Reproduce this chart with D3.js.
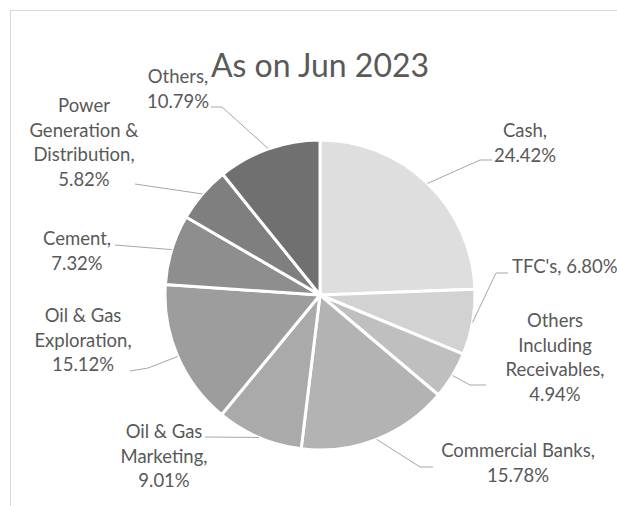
<!DOCTYPE html>
<html>
<head>
<meta charset="utf-8">
<script src="https://cdn.jsdelivr.net/npm/d3@7"></script>
<style>
  html, body { margin: 0; padding: 0; background: #ffffff; }
  svg { display: block; }
</style>
</head>
<body>
<svg id="chart" width="617" height="506"></svg>
<script>
// Portfolio composition, as on June 2023
const chartTitle = "As on Jun 2023";
const categories = [
  "Cash", "TFC's", "Others Including Receivables", "Commercial Banks",
  "Oil & Gas Marketing", "Oil & Gas Exploration", "Cement",
  "Power Generation & Distribution", "Others"
];
const shares = [24.42, 6.80, 4.94, 15.78, 9.01, 15.12, 7.32, 5.82, 10.79];
const sliceColors = [
  "#dedede", "#d2d2d2", "#bfbfbf", "#b3b3b3",
  "#aaaaaa", "#9d9d9d", "#8e8e8e", "#7f7f7f", "#707070"
];
// How each category name wraps inside its data label
const nameLines = [
  ["Cash"], ["TFC's"], ["Others", "Including", "Receivables"], ["Commercial Banks"],
  ["Oil & Gas", "Marketing"], ["Oil & Gas", "Exploration"], ["Cement"],
  ["Power", "Generation &", "Distribution"], ["Others"]
];

// Label placement: text anchor point, first baseline, and leader-line bend points
const labelLayout = [
  { x: 525, y: 137, anchor: "middle", inline: false, bends: [[480, 160], [492, 160]] },
  { x: 512, y: 273, anchor: "start",  inline: true,  bends: [[496, 273], [508, 273]] },
  { x: 555, y: 327, anchor: "middle", inline: false, bends: [[470, 385], [486, 385]] },
  { x: 518, y: 457, anchor: "middle", inline: false, bends: [[420, 467], [433, 467]] },
  { x: 164, y: 438, anchor: "middle", inline: false, bends: [[205, 437]] },
  { x: 83,  y: 322, anchor: "middle", inline: false, bends: [[148, 368], [130, 371]] },
  { x: 77,  y: 245, anchor: "middle", inline: false, bends: [[115, 245]] },
  { x: 84,  y: 112, anchor: "middle", inline: false, bends: [[135, 184]] },
  { x: 178, y: 83,  anchor: "middle", inline: false, bends: [[222, 107], [211, 107]] }
];

const W = 617, H = 506;
const cx = 320, cy = 295, radius = 155;
const textColor = "#595959";
const fontFamily = "Lato, 'Open Sans', sans-serif";
const labelSize = 18.5;
const lineGap = 24.5;

const svg = d3.select("#chart");

// chart area frame
svg.append("rect")
  .attr("x", 10.5).attr("y", 10.5)
  .attr("width", W + 50).attr("height", H + 50)
  .attr("fill", "#ffffff")
  .attr("stroke", "#d9d9d9")
  .attr("stroke-width", 1);

svg.append("text")
  .attr("x", 320).attr("y", 77)
  .attr("text-anchor", "middle")
  .attr("font-family", fontFamily)
  .attr("font-size", 32)
  .attr("fill", textColor)
  .text(chartTitle);

const data = categories.map((c, i) => ({ name: c, value: shares[i], color: sliceColors[i], lines: nameLines[i], layout: labelLayout[i] }));

const pie = d3.pie().sort(null).value(d => d.value).startAngle(0).endAngle(2 * Math.PI);
const arc = d3.arc().innerRadius(0).outerRadius(radius);
const arcs = pie(data);

const g = svg.append("g").attr("transform", `translate(${cx},${cy})`);

g.selectAll("path.slice")
  .data(arcs)
  .join("path")
  .attr("class", "slice")
  .attr("d", arc)
  .attr("fill", d => d.data.color)
  .attr("stroke", "#ffffff")
  .attr("stroke-width", 3)
  .attr("stroke-linejoin", "round");

const pct = v => d3.format(".2f")(v) + "%";

// leader lines from the middle of each slice's rim to its label
const line = d3.line();
svg.selectAll("path.leader")
  .data(arcs)
  .join("path")
  .attr("class", "leader")
  .attr("d", d => {
    const a = (d.startAngle + d.endAngle) / 2;
    const edge = [cx + radius * Math.sin(a), cy - radius * Math.cos(a)];
    return line([edge, ...d.data.layout.bends]);
  })
  .attr("fill", "none")
  .attr("stroke", "#a6a6a6")
  .attr("stroke-width", 1);

// data labels: category name, comma, share
const labels = svg.selectAll("text.label")
  .data(arcs)
  .join("text")
  .attr("class", "label")
  .attr("font-family", fontFamily)
  .attr("font-size", labelSize)
  .attr("fill", textColor)
  .attr("text-anchor", d => d.data.layout.anchor);

labels.each(function(d) {
  const L = d.data.layout;
  const rows = d.data.lines.slice();
  rows[rows.length - 1] = rows[rows.length - 1] + ",";
  if (L.inline) rows[rows.length - 1] += " " + pct(d.data.value);
  else rows.push(pct(d.data.value));
  d3.select(this).selectAll("tspan")
    .data(rows)
    .join("tspan")
    .attr("x", L.x)
    .attr("y", (r, i) => L.y + i * lineGap)
    .text(r => r);
});
</script>
</body>
</html>
